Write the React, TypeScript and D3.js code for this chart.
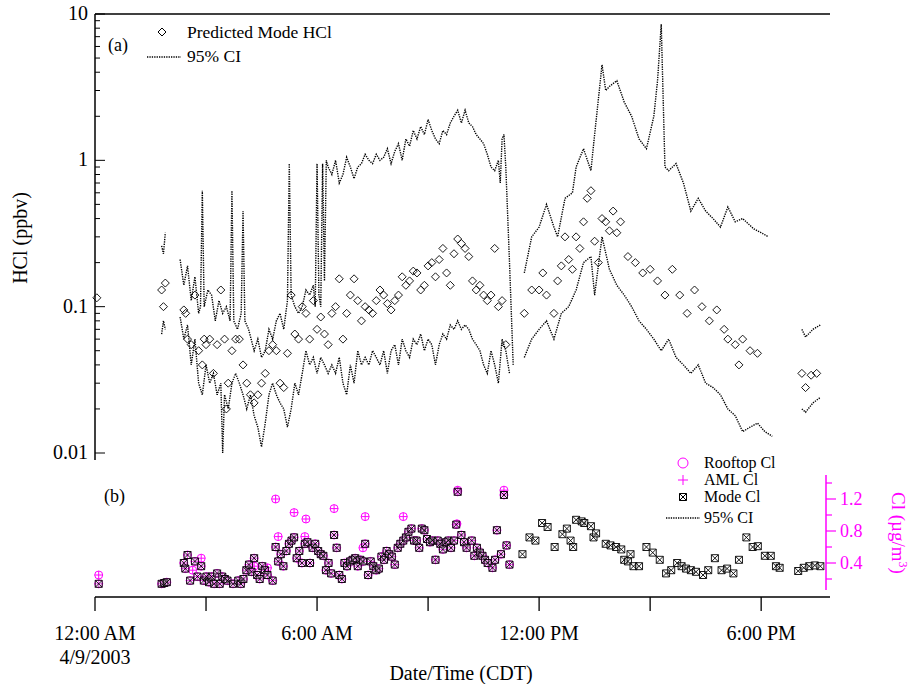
import React, { useEffect, useRef } from "react";
import * as d3 from "d3";

// time in hours after midnight 4/9/2003, value in ppbv
const hclMode: number[][] = [
  [0.05, 0.115], [1.8, 0.13], [1.85, 0.1], [1.9, 0.145],
  [2.4, 0.095], [2.45, 0.09], [2.5, 0.06], [2.6, 0.055], [2.7, 0.12], [2.8, 0.05], [2.9, 0.04], [2.95, 0.06],
  [3.0, 0.055], [3.1, 0.06], [3.2, 0.035], [3.3, 0.055], [3.4, 0.13], [3.5, 0.06], [3.55, 0.02], [3.6, 0.03], [3.7, 0.05], [3.8, 0.06],
  [3.9, 0.06], [4.0, 0.04], [4.1, 0.03], [4.2, 0.025], [4.3, 0.022], [4.4, 0.025], [4.5, 0.03], [4.6, 0.035], [4.7, 0.05], [4.8, 0.055],
  [4.9, 0.05], [5.0, 0.03], [5.1, 0.028], [5.2, 0.048], [5.3, 0.12], [5.4, 0.065], [5.5, 0.06], [5.6, 0.1], [5.7, 0.09], [5.8, 0.06],
  [5.9, 0.11], [6.0, 0.07], [6.1, 0.085], [6.2, 0.065], [6.3, 0.055], [6.4, 0.09], [6.5, 0.1], [6.6, 0.155], [6.7, 0.06], [6.8, 0.09],
  [6.9, 0.12], [7.0, 0.155], [7.1, 0.11], [7.2, 0.08], [7.3, 0.1], [7.4, 0.095], [7.5, 0.09], [7.6, 0.11], [7.7, 0.13], [7.8, 0.12],
  [7.9, 0.105], [8.0, 0.095], [8.1, 0.11], [8.2, 0.12], [8.3, 0.16], [8.4, 0.14], [8.5, 0.15], [8.6, 0.175], [8.7, 0.17], [8.8, 0.13],
  [8.9, 0.14], [9.0, 0.19], [9.1, 0.2], [9.2, 0.16], [9.3, 0.21], [9.4, 0.25], [9.5, 0.17], [9.6, 0.14], [9.7, 0.23], [9.8, 0.29],
  [9.9, 0.27], [10.0, 0.25], [10.1, 0.22], [10.2, 0.15], [10.3, 0.13], [10.4, 0.14], [10.5, 0.12], [10.6, 0.11], [10.7, 0.12], [10.8, 0.25],
  [10.9, 0.1], [11.0, 0.11], [11.1, 0.055],
  [11.6, 0.09], [11.8, 0.13], [12.0, 0.13], [12.1, 0.17], [12.2, 0.12], [12.4, 0.09], [12.5, 0.15], [12.6, 0.19], [12.7, 0.3],
  [12.8, 0.21], [12.9, 0.18], [13.0, 0.3], [13.1, 0.25], [13.2, 0.38], [13.3, 0.55], [13.4, 0.62], [13.5, 0.28], [13.6, 0.2],
  [13.7, 0.4], [13.8, 0.38], [13.9, 0.33], [14.0, 0.45], [14.1, 0.32], [14.2, 0.38], [14.4, 0.22], [14.6, 0.2], [14.8, 0.17],
  [15.0, 0.18], [15.2, 0.15], [15.4, 0.12], [15.6, 0.18], [15.8, 0.12], [16.0, 0.09], [16.2, 0.13], [16.4, 0.1], [16.6, 0.08],
  [16.8, 0.095], [17.0, 0.07], [17.1, 0.06], [17.3, 0.055], [17.4, 0.04], [17.5, 0.06], [17.7, 0.05], [17.9, 0.048],
  [19.1, 0.035], [19.2, 0.028], [19.35, 0.034], [19.5, 0.035],
];

// 95% CI segments (upper / lower)
const ciUpper: number[][][] = [
  [[1.8, 0.26], [1.85, 0.23], [1.9, 0.32]],
  [[2.3, 0.21], [2.4, 0.14], [2.5, 0.19], [2.6, 0.11], [2.7, 0.16], [2.8, 0.09], [2.85, 0.1], [2.9, 0.62], [2.95, 0.1], [3.05, 0.13],
   [3.15, 0.12], [3.25, 0.08], [3.35, 0.11], [3.45, 0.09], [3.55, 0.1], [3.65, 0.08], [3.7, 0.62], [3.75, 0.08], [3.85, 0.07],
   [3.95, 0.09], [4.0, 0.45], [4.05, 0.08], [4.15, 0.07], [4.3, 0.05], [4.4, 0.06], [4.5, 0.045], [4.6, 0.05], [4.7, 0.07],
   [4.8, 0.06], [4.9, 0.08], [5.0, 0.09], [5.1, 0.07], [5.2, 0.11], [5.25, 0.95], [5.3, 0.12], [5.4, 0.1], [5.5, 0.09], [5.6, 0.1],
   [5.7, 0.13], [5.8, 0.12], [5.9, 0.14], [5.95, 0.1], [6.0, 0.95], [6.05, 0.12], [6.1, 0.1], [6.15, 0.95], [6.2, 0.15], [6.25, 1.0],
   [6.3, 0.9], [6.4, 0.8], [6.5, 1.0], [6.6, 0.7], [6.7, 0.8], [6.8, 1.05], [6.9, 0.9], [7.0, 0.75], [7.1, 0.9], [7.2, 0.95],
   [7.3, 1.1], [7.4, 1.0], [7.5, 0.95], [7.6, 1.1], [7.7, 1.0], [7.8, 1.05], [7.9, 1.2], [8.0, 0.95], [8.1, 1.15], [8.2, 1.3],
   [8.3, 1.0], [8.4, 1.4], [8.5, 1.25], [8.6, 1.6], [8.7, 1.4], [8.8, 1.7], [8.9, 1.5], [9.0, 1.9], [9.1, 1.6], [9.2, 1.4],
   [9.3, 1.3], [9.4, 1.6], [9.5, 1.5], [9.6, 1.8], [9.7, 2.0], [9.8, 2.2], [9.9, 1.8], [10.0, 2.2], [10.1, 1.8], [10.2, 1.7],
   [10.3, 1.5], [10.4, 1.4], [10.5, 1.3], [10.6, 1.1], [10.7, 0.9], [10.8, 0.85], [10.9, 1.0], [10.95, 0.7], [11.0, 1.4],
   [11.05, 1.5], [11.1, 0.9], [11.2, 0.2], [11.3, 0.04]],
  [[11.6, 0.17], [11.8, 0.3], [12.0, 0.35], [12.2, 0.5], [12.4, 0.35], [12.5, 0.3], [12.7, 0.55], [12.9, 0.6], [13.0, 0.9],
   [13.2, 1.2], [13.4, 0.85], [13.5, 1.5], [13.7, 4.5], [13.8, 3.0], [13.9, 3.2], [14.1, 3.5], [14.3, 2.5], [14.5, 2.0],
   [14.7, 1.4], [14.9, 1.2], [15.1, 2.0], [15.2, 3.5], [15.3, 8.5], [15.4, 0.9], [15.5, 0.85], [15.7, 0.95], [15.9, 0.7],
   [16.1, 0.45], [16.3, 0.55], [16.5, 0.45], [16.7, 0.4], [16.9, 0.35], [17.1, 0.48], [17.3, 0.38], [17.5, 0.4], [17.8, 0.34],
   [18.0, 0.32], [18.2, 0.3]],
  [[19.1, 0.07], [19.2, 0.062], [19.4, 0.07], [19.6, 0.075]],
];
const ciLower: number[][][] = [
  [[1.8, 0.065], [1.85, 0.08], [1.9, 0.07]],
  [[2.3, 0.085], [2.4, 0.06], [2.5, 0.075], [2.6, 0.04], [2.7, 0.06], [2.8, 0.03], [2.9, 0.025], [3.0, 0.04], [3.1, 0.03],
   [3.2, 0.035], [3.3, 0.025], [3.4, 0.03], [3.45, 0.01], [3.5, 0.025], [3.6, 0.02], [3.7, 0.03], [3.8, 0.035], [3.9, 0.03],
   [4.0, 0.025], [4.1, 0.02], [4.2, 0.025], [4.3, 0.018], [4.4, 0.015], [4.5, 0.011], [4.6, 0.016], [4.7, 0.025], [4.8, 0.03],
   [4.9, 0.025], [5.0, 0.022], [5.1, 0.02], [5.2, 0.015], [5.3, 0.02], [5.4, 0.03], [5.5, 0.025], [5.6, 0.035], [5.7, 0.05],
   [5.8, 0.04], [5.9, 0.045], [6.0, 0.035], [6.1, 0.045], [6.2, 0.04], [6.3, 0.035], [6.4, 0.04], [6.5, 0.035], [6.6, 0.045],
   [6.7, 0.03], [6.8, 0.025], [6.9, 0.04], [7.0, 0.03], [7.1, 0.05], [7.2, 0.04], [7.3, 0.045], [7.4, 0.04], [7.5, 0.05],
   [7.6, 0.045], [7.7, 0.04], [7.8, 0.05], [7.9, 0.035], [8.0, 0.05], [8.1, 0.055], [8.2, 0.04], [8.3, 0.06], [8.4, 0.05],
   [8.5, 0.045], [8.6, 0.06], [8.7, 0.055], [8.8, 0.065], [8.9, 0.05], [9.0, 0.06], [9.1, 0.055], [9.2, 0.04], [9.3, 0.055],
   [9.4, 0.065], [9.5, 0.06], [9.6, 0.075], [9.7, 0.07], [9.8, 0.08], [9.9, 0.07], [10.0, 0.075], [10.1, 0.07], [10.2, 0.06],
   [10.3, 0.055], [10.4, 0.05], [10.5, 0.04], [10.6, 0.035], [10.7, 0.05], [10.8, 0.04], [10.9, 0.03], [11.0, 0.06],
   [11.1, 0.05], [11.2, 0.035]],
  [[11.6, 0.045], [11.8, 0.06], [12.0, 0.07], [12.2, 0.08], [12.4, 0.06], [12.6, 0.09], [12.8, 0.1], [13.0, 0.13], [13.2, 0.2],
   [13.4, 0.22], [13.5, 0.12], [13.7, 0.3], [13.9, 0.18], [14.1, 0.14], [14.3, 0.12], [14.5, 0.1], [14.7, 0.08], [14.9, 0.07],
   [15.1, 0.06], [15.3, 0.05], [15.5, 0.06], [15.7, 0.045], [15.9, 0.04], [16.1, 0.035], [16.3, 0.04], [16.5, 0.03],
   [16.7, 0.028], [16.9, 0.025], [17.1, 0.02], [17.3, 0.018], [17.5, 0.014], [17.7, 0.015], [17.9, 0.016], [18.1, 0.014],
   [18.3, 0.013]],
  [[19.1, 0.02], [19.2, 0.019], [19.4, 0.022], [19.6, 0.024]],
];

// Cl, µg/m3
const modeCl: number[][] = [
  [0.1, 0.14], [1.8, 0.14], [1.87, 0.15], [1.94, 0.16],
  [2.4, 0.4], [2.44, 0.33], [2.5, 0.5], [2.57, 0.18], [2.7, 0.42], [2.77, 0.23], [2.87, 0.36], [2.94, 0.18], [3.01, 0.23],
  [3.08, 0.16], [3.15, 0.23], [3.22, 0.14], [3.3, 0.27], [3.37, 0.14], [3.44, 0.23], [3.51, 0.2], [3.58, 0.18], [3.73, 0.14],
  [3.87, 0.18], [3.94, 0.14], [4.01, 0.2], [4.09, 0.31], [4.16, 0.38], [4.23, 0.29], [4.3, 0.46], [4.38, 0.25], [4.45, 0.2],
  [4.52, 0.36], [4.59, 0.31], [4.66, 0.25], [4.8, 0.18], [4.88, 0.6], [4.95, 0.42], [5.02, 0.51], [5.09, 0.36], [5.17, 0.55],
  [5.24, 0.64], [5.31, 0.68], [5.38, 0.72], [5.45, 0.46], [5.52, 0.55], [5.59, 0.4], [5.67, 0.64], [5.74, 0.66], [5.81, 0.4],
  [5.88, 0.59], [5.95, 0.64], [6.03, 0.55], [6.1, 0.51], [6.17, 0.49], [6.24, 0.31], [6.31, 0.4], [6.38, 0.27], [6.46, 0.75],
  [6.53, 0.59], [6.6, 0.25], [6.67, 0.2], [6.74, 0.4], [6.81, 0.36], [6.89, 0.42], [6.96, 0.44], [7.03, 0.46], [7.1, 0.36],
  [7.17, 0.44], [7.24, 0.42], [7.3, 0.64], [7.38, 0.25], [7.45, 0.42], [7.52, 0.36], [7.6, 0.31], [7.67, 0.33], [7.74, 0.48],
  [7.81, 0.44], [7.88, 0.55], [7.95, 0.51], [8.02, 0.48], [8.1, 0.38], [8.18, 0.59], [8.25, 0.64], [8.33, 0.68], [8.4, 0.72],
  [8.47, 0.79], [8.55, 0.83], [8.62, 0.68], [8.69, 0.68], [8.76, 0.59], [8.83, 0.83], [8.9, 0.81], [8.97, 0.7], [9.05, 0.66],
  [9.12, 0.68], [9.2, 0.44], [9.26, 0.68], [9.33, 0.64], [9.4, 0.57], [9.48, 0.66], [9.55, 0.68], [9.62, 0.59], [9.7, 0.68],
  [9.76, 0.88], [9.8, 1.29], [9.9, 0.75], [9.97, 0.66], [10.04, 0.59], [10.18, 0.68], [10.25, 0.49], [10.32, 0.59],
  [10.4, 0.53], [10.47, 0.49], [10.54, 0.44], [10.61, 0.4], [10.74, 0.34], [10.81, 0.44], [10.86, 0.81], [10.97, 0.51],
  [11.05, 1.25], [11.12, 0.62], [11.2, 0.38],
  [11.55, 0.51], [11.74, 0.72], [11.9, 0.68], [12.08, 0.9], [12.23, 0.85], [12.42, 0.6], [12.63, 0.76], [12.75, 0.83],
  [12.85, 0.68], [12.92, 0.6], [13.0, 0.94], [13.15, 0.92], [13.22, 0.9], [13.4, 0.86], [13.47, 0.72], [13.54, 0.77],
  [13.8, 0.64], [13.93, 0.62], [14.08, 0.6], [14.22, 0.57], [14.3, 0.44], [14.4, 0.42], [14.47, 0.51], [14.55, 0.36],
  [14.7, 0.36], [14.9, 0.6], [15.07, 0.53], [15.26, 0.44], [15.43, 0.27], [15.57, 0.31], [15.73, 0.4], [15.85, 0.36],
  [15.97, 0.33], [16.1, 0.31], [16.24, 0.29], [16.43, 0.25], [16.57, 0.31], [16.75, 0.46], [16.93, 0.31], [17.08, 0.33],
  [17.25, 0.27], [17.4, 0.44], [17.6, 0.72], [17.77, 0.6], [17.91, 0.61], [18.1, 0.49], [18.26, 0.49], [18.4, 0.36],
  [18.5, 0.34], [19.0, 0.3], [19.15, 0.34], [19.3, 0.36], [19.45, 0.37], [19.6, 0.36],
];
const rooftopExtra: number[][] = [
  [0.1, 0.25], [2.64, 0.31], [2.87, 0.46], [4.3, 0.36], [4.66, 0.34], [4.88, 1.2], [4.95, 0.73], [5.38, 1.03],
  [5.7, 0.95], [5.67, 0.73], [6.46, 1.08], [7.3, 0.98], [7.24, 0.59], [8.33, 0.98], [9.8, 1.31], [9.78, 0.89], [11.05, 1.31],
];

const W = 912, H = 684;
const FONT = "'Liberation Serif', 'Times New Roman', serif";
const MAG = "#ff00ff";

export default function App() {
  const ref = useRef<SVGSVGElement>(null);
  useEffect(() => {
    const svg = d3.select(ref.current);
    svg.selectAll("*").remove();
    const x = d3.scaleLinear().domain([0, 19.86]).range([95, 830]);
    const y = d3.scaleLog().domain([0.01, 10]).range([453, 14]);
    const yb = d3.scaleLinear().domain([0.4, 0.8]).range([563, 531]);

    const g = svg.append("g").style("font-family", FONT).style("font-size", "20px");

    // frame top + left axis
    g.append("line").attr("x1", 95).attr("x2", 830).attr("y1", 14).attr("y2", 14).attr("stroke", "#000").attr("stroke-width", 1.5);
    g.append("line").attr("x1", 95).attr("x2", 95).attr("y1", 14).attr("y2", 460).attr("stroke", "#000").attr("stroke-width", 1.5);
    for (let e = -2; e <= 1; e++) {
      for (let m = 1; m <= 9; m++) {
        const v = m * Math.pow(10, e);
        if (v > 10.001) continue;
        const yy = y(v);
        g.append("line").attr("x1", 95).attr("x2", 95 + (m === 1 ? 10 : 5)).attr("y1", yy).attr("y2", yy).attr("stroke", "#000");
        if (m === 1) g.append("text").attr("x", 88).attr("y", yy + 6).attr("text-anchor", "end").text(d3.format("~g")(v));
      }
    }
    g.append("text").attr("transform", "translate(27,238) rotate(-90)").attr("text-anchor", "middle").text("HCl (ppbv)");

    // CI lines
    const line = d3.line<number[]>().x(d => x(d[0])).y(d => y(d[1]));
    [...ciUpper, ...ciLower].forEach(seg => {
      g.append("path").attr("d", line(seg)).attr("fill", "none").attr("stroke", "#000").attr("stroke-width", 1.4).attr("stroke-dasharray", "1.3,1.1");
    });
    const diamond = (cx: number, cy: number) => `M${cx},${cy - 4}L${cx + 4},${cy}L${cx},${cy + 4}L${cx - 4},${cy}Z`;
    g.append("g").selectAll("path").data(hclMode).join("path")
      .attr("d", d => diamond(x(d[0]), y(d[1]))).attr("fill", "none").attr("stroke", "#000").attr("stroke-width", 0.9);

    // legend a
    g.append("text").attr("x", 108).attr("y", 51).text("(a)").style("font-size", "18px");
    g.append("path").attr("d", diamond(162, 32)).attr("fill", "none").attr("stroke", "#000");
    g.append("text").attr("x", 187).attr("y", 38).text("Predicted Mode HCl").style("font-size", "17.5px");
    g.append("line").attr("x1", 147).attr("x2", 181).attr("y1", 57).attr("y2", 57).attr("stroke", "#000").attr("stroke-width", 1.4).attr("stroke-dasharray", "1.3,1.1");
    g.append("text").attr("x", 187).attr("y", 62).text("95% CI").style("font-size", "17.5px");

    // panel b
    const roof = [...modeCl.filter(d => d[0] < 11.3), ...rooftopExtra];
    g.append("g").selectAll("circle").data(roof).join("circle")
      .attr("cx", d => x(d[0])).attr("cy", d => yb(d[1])).attr("r", 4).attr("fill", "none").attr("stroke", MAG);
    g.append("g").selectAll("path").data(roof).join("path")
      .attr("d", d => `M${x(d[0]) - 4},${yb(d[1])}h8M${x(d[0])},${yb(d[1]) - 4}v8`).attr("stroke", MAG);
    const boxX = (cx: number, cy: number) => `M${cx - 3.5},${cy - 3.5}h7v7h-7ZM${cx - 3.5},${cy - 3.5}L${cx + 3.5},${cy + 3.5}M${cx + 3.5},${cy - 3.5}L${cx - 3.5},${cy + 3.5}`;
    g.append("g").selectAll("path").data(modeCl).join("path")
      .attr("d", d => boxX(x(d[0]), yb(d[1]))).attr("fill", "#fff").attr("fill-opacity", 0.3).attr("stroke", "#000").attr("stroke-width", 0.9);

    // right axis (magenta)
    g.append("line").attr("x1", 826).attr("x2", 826).attr("y1", 475).attr("y2", 590).attr("stroke", MAG).attr("stroke-width", 1.5);
    [0.2, 0.4, 0.6, 0.8, 1.0, 1.2, 1.4].forEach((v, i) => {
      const yy = yb(v);
      g.append("line").attr("x1", 826).attr("x2", i % 2 ? 836 : 832).attr("y1", yy).attr("y2", yy).attr("stroke", MAG).attr("stroke-width", 1.2);
      if (i % 2) g.append("text").attr("x", 840).attr("y", yy + 6).attr("fill", MAG).style("font-size", "18px").text(d3.format(".1f")(v));
    });
    g.append("text").attr("transform", "translate(892,533) rotate(90)").attr("text-anchor", "middle").attr("fill", MAG).style("font-size", "19px")
      .html("Cl (µg/m<tspan dy='-7' font-size='12'>3</tspan><tspan dy='7'>)</tspan>");

    // legend b
    g.append("circle").attr("cx", 683).attr("cy", 463).attr("r", 5).attr("fill", "none").attr("stroke", MAG);
    g.append("text").attr("x", 704).attr("y", 468).text("Rooftop Cl").style("font-size", "16px");
    g.append("path").attr("d", "M678,480h10M683,475v10").attr("stroke", MAG);
    g.append("text").attr("x", 704).attr("y", 485).text("AML Cl").style("font-size", "16px");
    g.append("path").attr("d", boxX(683, 497)).attr("fill", "none").attr("stroke", "#000");
    g.append("text").attr("x", 704).attr("y", 502).text("Mode Cl").style("font-size", "16px");
    g.append("line").attr("x1", 666).attr("x2", 700).attr("y1", 518).attr("y2", 518).attr("stroke", "#000").attr("stroke-width", 1.4).attr("stroke-dasharray", "1.3,1.1");
    g.append("text").attr("x", 704).attr("y", 523).text("95% CI").style("font-size", "16px");
    g.append("text").attr("x", 104).attr("y", 502).text("(b)").style("font-size", "18px");

    // bottom axis
    g.append("line").attr("x1", 95).attr("x2", 830).attr("y1", 597).attr("y2", 597).attr("stroke", "#000").attr("stroke-width", 1.5);
    d3.range(0, 19, 3).forEach(t => {
      g.append("line").attr("x1", x(t)).attr("x2", x(t)).attr("y1", 597).attr("y2", 611).attr("stroke", "#000").attr("stroke-width", 1.3);
    });
    const tl = ["12:00 AM", "6:00 AM", "12:00 PM", "6:00 PM"];
    tl.forEach((s, i) => g.append("text").attr("x", x(i * 6)).attr("y", 640).attr("text-anchor", "middle").text(s));
    g.append("text").attr("x", x(0)).attr("y", 664).attr("text-anchor", "middle").text("4/9/2003");
    g.append("text").attr("x", 461).attr("y", 680).attr("text-anchor", "middle").text("Date/Time (CDT)");
  }, []);
  return <svg ref={ref} width={W} height={H} style={{ position: "absolute", left: 0, top: 0, background: "#fff" }} />;
}
